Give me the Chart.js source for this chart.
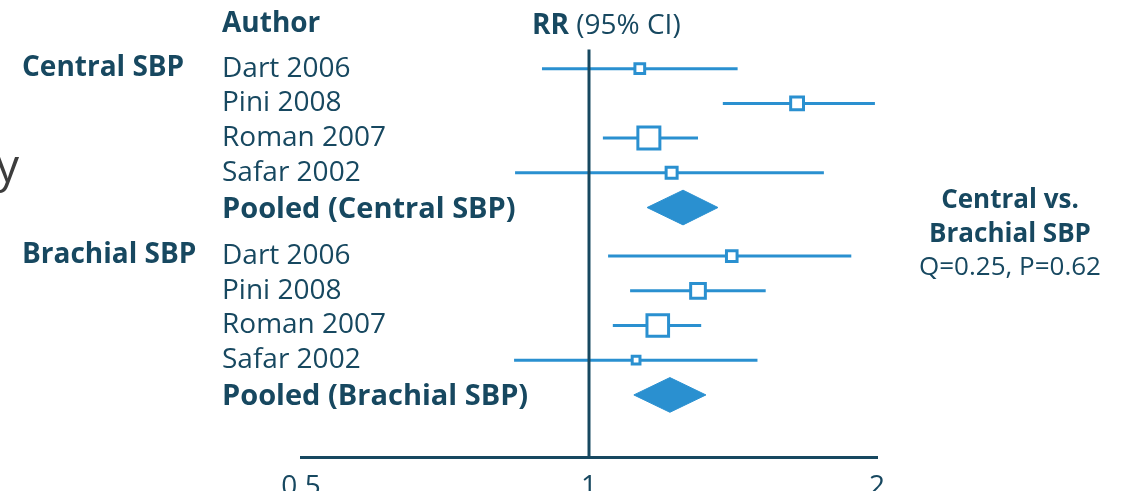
<!DOCTYPE html>
<html lang="en">
<head>
<meta charset="UTF-8">
<title>Central vs brachial SBP - forest plot</title>
<script src="https://cdn.jsdelivr.net/npm/chart.js@4.4.1/dist/chart.umd.min.js"></script>
<style>
  html, body { margin: 0; padding: 0; background: #fff; overflow: hidden; }
</style>
</head>
<body>
<canvas id="forest" width="1130" height="515"></canvas>
<script>
  // --- data ---
  const groups = ['Central SBP', 'Brachial SBP'];
  const authors = ['Dart 2006', 'Pini 2008', 'Roman 2007', 'Safar 2002'];

  const centralRR = [1.13, 1.65, 1.155, 1.22];
  const centralLo = [0.893, 1.38, 1.034, 0.837];
  const centralHi = [1.43, 1.99, 1.30, 1.76];
  const centralWeight = [11, 19, 56, 14];

  const brachialRR = [1.41, 1.30, 1.18, 1.12];
  const brachialLo = [1.047, 1.104, 1.059, 0.835];
  const brachialHi = [1.88, 1.53, 1.31, 1.50];
  const brachialWeight = [13, 25, 54, 7];

  const pooledLabels = ['Pooled (Central SBP)', 'Pooled (Brachial SBP)'];
  const pooledRR = [1.254, 1.215];
  const pooledLo = [1.15, 1.114];
  const pooledHi = [1.364, 1.325];

  const xTicks = [0.5, 1, 2];
  const heterogeneity = ['Central vs.', 'Brachial SBP', 'Q=0.25, P=0.62'];

  // --- look ---
  const BLUE = '#2a90d0';
  const DARK = '#174860';
  const FONT = "'Open Sans', sans-serif";
  const groupStart = [0, 5.4];   // y-row where each group begins
  const boxK = 2.94;             // box side = boxK * sqrt(weight)

  const studies = [
    { rr: centralRR, lo: centralLo, hi: centralHi, w: centralWeight },
    { rr: brachialRR, lo: brachialLo, hi: brachialHi, w: brachialWeight }
  ];

  const ciSets = [], boxPoints = [], diamondSets = [];
  studies.forEach((g, gi) => {
    g.rr.forEach((v, i) => {
      const row = groupStart[gi] + i;
      ciSets.push({
        type: 'line',
        data: [{ x: g.lo[i], y: row }, { x: g.hi[i], y: row }],
        borderColor: BLUE, borderWidth: 3, pointRadius: 0
      });
      boxPoints.push({ x: v, y: row, w: g.w[i] });
    });
    const prow = groupStart[gi] + authors.length;
    diamondSets.push({
      type: 'line',
      data: [
        { x: pooledLo[gi], y: prow },
        { x: pooledRR[gi], y: prow - 0.5 },
        { x: pooledHi[gi], y: prow },
        { x: pooledRR[gi], y: prow + 0.5 },
        { x: pooledLo[gi], y: prow }
      ],
      fill: 'shape', backgroundColor: BLUE, borderColor: BLUE, borderWidth: 1,
      pointRadius: 0, tension: 0
    });
  });

  const nullLine = {
    type: 'line',
    data: [{ x: 1, y: -0.55 }, { x: 1, y: 11.2 }],
    borderColor: DARK, borderWidth: 3, pointRadius: 0
  };

  const boxes = {
    type: 'scatter',
    data: boxPoints,
    pointStyle: 'rect',
    pointRadius: ctx => boxK * Math.sqrt(ctx.raw.w) / (2 * Math.SQRT1_2),
    backgroundColor: '#fff',
    borderColor: BLUE,
    borderWidth: 3
  };

  // text columns drawn against the y scale
  const labelsPlugin = {
    id: 'forestLabels',
    afterDraw(chart) {
      const c = chart.ctx, y = chart.scales.y;
      const py = r => y.getPixelForValue(r);
      c.save();
      c.textBaseline = 'middle';
      c.fillStyle = DARK;

      // column headers
      c.font = 'bold 28px ' + FONT;
      c.textAlign = 'left';
      c.fillText('Author', 222, py(-1.28));
      c.fillText('RR', 532, py(-1.24));
      const rrW = c.measureText('RR ').width;
      c.font = '28px ' + FONT;
      c.fillText('(95% CI)', 532 + rrW, py(-1.24));

      groups.forEach((name, gi) => {
        c.font = 'bold 28px ' + FONT;
        c.fillText(name, 22, py(groupStart[gi]) - 1);
        authors.forEach((a, i) => {
          c.font = '28px ' + FONT;
          c.fillText(a, 222, py(groupStart[gi] + i));
        });
        c.font = 'bold 29px ' + FONT;
        c.fillText(pooledLabels[gi], 222, py(groupStart[gi] + authors.length) + 2);
      });

      // heterogeneity note
      c.textAlign = 'center';
      heterogeneity.forEach((t, i) => {
        c.font = (i < 2 ? 'bold ' : '') + '26px ' + FONT;
        c.fillText(t, 1010, py(3.8 + i * 0.97));
      });

      // fragment of slide text at the left edge
      c.fillStyle = '#3d3d3d';
      c.textAlign = 'left';
      c.font = '46px ' + FONT;
      c.fillText('y', -4, py(2.9));
      c.restore();
    }
  };

  new Chart(document.getElementById('forest'), {
    data: { datasets: [nullLine, boxes, ...diamondSets, ...ciSets] },
    options: {
      responsive: false,
      animation: false,
      events: [],
      layout: { padding: { left: 301, right: 253, top: 34, bottom: 6 } },
      plugins: { legend: { display: false }, tooltip: { enabled: false } },
      scales: {
        x: {
          type: 'logarithmic',
          min: 0.5, max: 2,
          afterBuildTicks: s => { s.ticks = xTicks.map(v => ({ value: v })); },
          grid: { display: false },
          border: { display: true, color: DARK, width: 3 },
          ticks: {
            autoSkip: false, maxRotation: 0, padding: 5,
            color: DARK, font: { family: FONT, size: 28 },
            callback: v => String(v)
          }
        },
        y: {
          type: 'linear', reverse: true,
          min: -1, max: 11.2,
          display: false
        }
      }
    },
    plugins: [labelsPlugin]
  });
</script>
</body>
</html>
